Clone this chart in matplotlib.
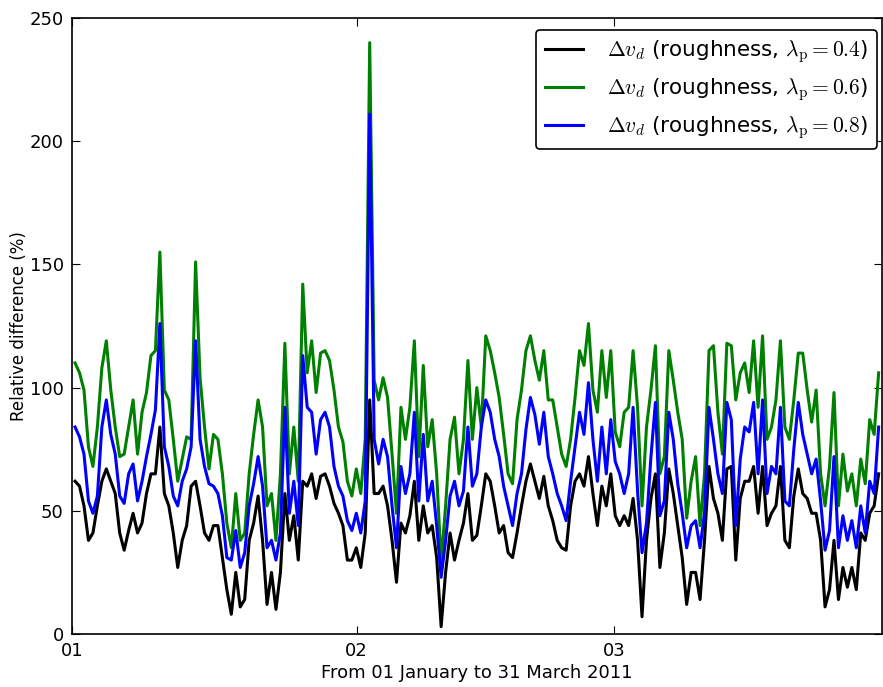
import numpy as np
import pandas as pd
import matplotlib
matplotlib.use('Agg')
import matplotlib.pyplot as plt
import matplotlib.dates as mdates

plt.rcParams['mathtext.fontset'] = 'cm'
plt.rcParams['font.family'] = 'DejaVu Sans'

# valores lidos a cada ~11h40 a partir de 01/01/2011 08:00
inicio = '2011-01-01 08:00'
passo = '700min'

lam04 = [62, 60, 52, 38, 41, 52, 62, 67, 62, 57, 41, 34, 42, 49, 41, 45, 57, 65, 65, 84, 57, 52, 41, 27, 38, 44, 60, 62, 52, 41, 38,
         44, 44, 31, 18, 8, 25, 11, 14, 38, 45, 56, 38, 12, 25, 10, 25, 57, 38, 48, 30, 62, 60, 65, 55, 64, 65, 60, 53, 49, 44,
         30, 30, 35, 27, 41, 95, 57, 57, 60, 52, 38, 21, 45, 41, 48, 62, 38, 52, 41, 44, 31, 3, 25, 41, 30, 38, 45, 57, 38, 40,
         52, 65, 62, 52, 41, 44, 33, 31, 41, 52, 62, 69, 62, 55, 64, 52, 46, 38, 35, 34, 52, 62, 65, 60, 72, 57, 44, 60, 52, 65, 48,
         44, 48, 44, 55, 38, 7, 38, 55, 65, 27, 41, 67, 57, 44, 31, 12, 25, 25, 14, 38, 68, 55, 49, 38, 67, 68, 30, 55, 62, 62,
         68, 49, 68, 44, 49, 52, 68, 38, 35, 56, 67, 57, 55, 49, 49, 38, 11, 18, 38, 14, 27, 19, 27, 18, 41, 38, 49, 52, 65]

lam06 = [110, 106, 99, 76, 68, 84, 108, 119, 99, 84, 72, 73, 84, 95, 73, 90, 98, 113, 115, 155, 99, 95, 79, 62, 71, 80, 79, 151, 104, 84, 67,
         81, 79, 65, 45, 35, 57, 38, 41, 65, 81, 95, 84, 52, 57, 38, 65, 118, 65, 84, 62, 142, 106, 119, 98, 114, 115, 111, 99, 84, 78,
         62, 56, 67, 57, 79, 240, 103, 95, 104, 96, 73, 49, 92, 79, 92, 119, 72, 109, 76, 87, 65, 29, 52, 79, 88, 65, 79, 111, 79, 100,
         84, 121, 115, 106, 96, 81, 65, 61, 87, 99, 115, 121, 111, 103, 115, 95, 95, 84, 73, 68, 79, 96, 115, 109, 126, 99, 90, 115, 96, 115, 82,
         76, 90, 92, 115, 92, 52, 84, 99, 117, 65, 72, 115, 103, 90, 79, 47, 62, 72, 44, 65, 115, 117, 90, 73, 118, 117, 95, 106, 110, 98,
         119, 92, 121, 79, 84, 95, 119, 84, 79, 95, 114, 114, 99, 86, 99, 65, 52, 68, 98, 52, 73, 58, 65, 52, 71, 61, 87, 81, 106]

lam08 = [84, 80, 73, 54, 49, 56, 84, 95, 81, 73, 56, 53, 65, 69, 54, 62, 72, 81, 91, 126, 76, 68, 56, 52, 62, 67, 76, 119, 79, 68, 61,
         60, 57, 48, 31, 30, 42, 27, 33, 52, 61, 72, 60, 35, 38, 30, 41, 92, 49, 62, 44, 113, 92, 90, 73, 87, 90, 84, 68, 60, 56,
         46, 42, 49, 41, 54, 211, 79, 69, 79, 72, 52, 35, 68, 57, 65, 90, 54, 81, 54, 62, 44, 23, 38, 56, 62, 52, 58, 84, 60, 65,
         84, 95, 90, 79, 72, 60, 52, 44, 57, 65, 83, 96, 89, 77, 90, 72, 65, 57, 52, 46, 62, 76, 90, 81, 102, 79, 62, 84, 65, 87, 70,
         65, 57, 65, 92, 58, 33, 45, 72, 94, 48, 54, 90, 79, 61, 49, 35, 44, 46, 35, 49, 92, 79, 65, 57, 94, 87, 44, 71, 84, 82,
         94, 65, 95, 57, 68, 65, 92, 54, 52, 75, 94, 81, 73, 65, 71, 54, 34, 42, 72, 35, 48, 38, 46, 35, 52, 41, 62, 57, 84]

datas = pd.date_range(inicio, periods=len(lam04), freq=passo)

rotulos = [r'$\Delta v_d$ (roughness, $\lambda_{\rm p}=0.4$)',
           r'$\Delta v_d$ (roughness, $\lambda_{\rm p}=0.6$)',
           r'$\Delta v_d$ (roughness, $\lambda_{\rm p}=0.8$)']

fig = plt.figure(figsize=(8.83, 6.87), dpi=100)
ax = fig.add_axes([72/883, 53/687, 810/883, 616/687])

ax.plot(datas, lam04, color='black', lw=2.2, label=rotulos[0])
ax.plot(datas, lam06, color='green', lw=2.2, label=rotulos[1])
ax.plot(datas, lam08, color='blue', lw=2.2, label=rotulos[2])

ax.set_ylim(0, 250)
ax.set_yticks([0, 50, 100, 150, 200, 250])
ax.set_xlim(pd.Timestamp('2011-01-01'), pd.Timestamp('2011-01-01') + pd.Timedelta(days=88.2))
ax.xaxis.set_major_locator(mdates.MonthLocator())
ax.xaxis.set_major_formatter(mdates.DateFormatter('%m'))
ax.tick_params(direction='in', length=6, labelsize=13, top=True, right=True, pad=6)
for s in ax.spines.values():
    s.set_linewidth(1.2)

ax.set_ylabel('Relative difference (%)', fontsize=12, labelpad=1)
ax.set_xlabel('From 01 January to 31 March 2011', fontsize=13, labelpad=3)

leg = ax.legend(loc='upper right', bbox_to_anchor=(0.9938, 0.9805), borderaxespad=0,
                fontsize=15.5, fancybox=True, handlelength=1.8, handletextpad=1.1,
                framealpha=1, edgecolor='black')
leg.get_frame().set_linewidth(1.2)

fig.savefig('out.png', dpi=100)
